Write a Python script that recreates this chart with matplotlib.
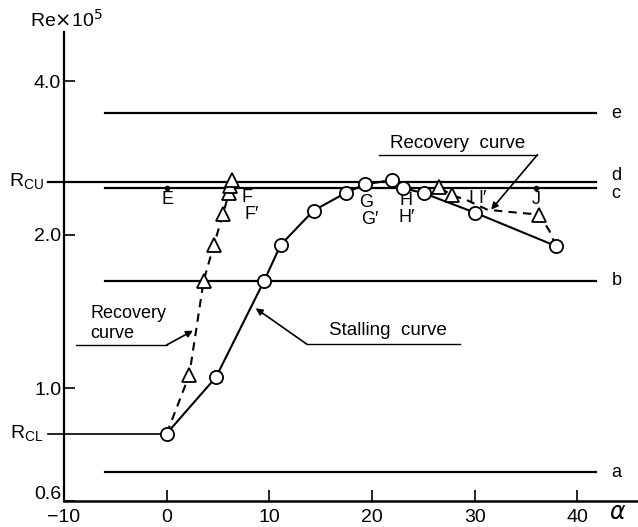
import matplotlib
matplotlib.use('Agg')
import matplotlib.pyplot as plt
import matplotlib.transforms as mtransforms
from matplotlib.ticker import NullLocator

plt.rcParams['font.family'] = ['Liberation Sans', 'DejaVu Sans']

# reference levels (Re x 10^5)
R_CU = 2.54
R_CL = 0.814
level_names = ['e', 'd', 'c', 'b', 'a']
level_values = [3.46, R_CU, 2.47, 1.625, 0.684]

# stalling curve (circles)
stall_alpha = [0.0, 4.8, 9.5, 11.1, 14.3, 17.5, 19.3, 21.9, 23.0, 25.1, 30.0, 37.9]
stall_re = [0.814, 1.05, 1.625, 1.91, 2.23, 2.42, 2.51, 2.56, 2.47, 2.41, 2.21, 1.90]

# recovery curve, low angle branch (triangles)
rec1_alpha = [0.0, 2.2, 3.6, 4.6, 5.5, 6.05, 6.2, 6.35]
rec1_re = [0.814, 1.06, 1.625, 1.91, 2.20, 2.41, 2.49, 2.56]
rec1_mark = [False, True, True, True, True, True, True, True]

# recovery curve, high angle branch
rec2_alpha = [37.9, 37.3, 36.3, 33.0, 31.2, 29.2, 27.8, 26.5]
rec2_re = [1.90, 2.03, 2.19, 2.22, 2.24, 2.34, 2.39, 2.48]
rec2_mark = [False, False, True, False, False, False, True, True]

# point labels
pt_text = ['E', 'F', "F\u2032", 'G', "G\u2032", 'H', "H\u2032", 'I', "I\u2032", 'J']
pt_alpha = [0.1, 7.8, 8.3, 19.4, 19.8, 23.3, 23.4, 29.6, 30.8, 36.0]
pt_re = [2.34, 2.37, 2.19, 2.31, 2.14, 2.33, 2.16, 2.36, 2.36, 2.35]
dot_alpha = [0.0, 36.0]
dot_re = [2.47, 2.47]

fig = plt.figure(figsize=(6.38, 5.27), dpi=100)
ax = fig.add_axes([64 / 638, 26 / 527, 573 / 638, 469 / 527])
ax.set_yscale('log')
ax.set_xlim(-10, 45.8)
ax.set_ylim(0.6, 5.0)

for s in ['top', 'right']:
    ax.spines[s].set_visible(False)
ax.spines['left'].set_linewidth(1.6)
ax.spines['bottom'].set_linewidth(1.8)

ax.set_yticks([0.6, 1.0, 2.0, 4.0])
ax.set_yticklabels(['0.6', '1.0', '2.0', '4.0'])
ax.yaxis.set_minor_locator(NullLocator())
ax.set_xticks([-10, 0, 10, 20, 30, 40])
ax.set_xticklabels(['\u221210', '0', '10', '20', '30', '40'])
ax.tick_params(axis='both', direction='in', length=8, width=1.2, labelsize=14)
ax.tick_params(axis='x', pad=6)
ax.tick_params(axis='y', pad=2)

# lift the bottom label just clear of the x axis
lab06 = ax.get_yticklabels()[0]
lab06.set_transform(lab06.get_transform() +
                    mtransforms.ScaledTranslation(0, 6 / 72, fig.dpi_scale_trans))

# horizontal levels
for name, v in zip(level_names, level_values):
    x0 = -11.6 if name == 'd' else -6.0
    ax.plot([x0, 41.8], [v, v], color='black', lw=1.6, clip_on=False)
    ax.text(43.3, v * (1.03 if name == 'd' else (0.975 if name == 'c' else 1.0)), name,
            fontsize=13, va='center', ha='left')
ax.plot([-11.6, 0], [R_CL, R_CL], color='black', lw=1.2, clip_on=False)

ax.text(-12.0, R_CU, r'R$_{\mathregular{CU}}$', fontsize=14, ha='right', va='center')
ax.text(-12.0, R_CL, r'R$_{\mathregular{CL}}$', fontsize=14, ha='right', va='center')

# stalling curve
ax.plot(stall_alpha, stall_re, color='black', lw=1.5, zorder=3)
ax.plot(stall_alpha, stall_re, 'o', ms=9.5, mfc='white', mec='black', mew=1.3, zorder=4)

# recovery curves
ax.plot(rec1_alpha, rec1_re, color='black', lw=1.5, ls=(0, (4, 3)), zorder=3)
ax.plot([a for a, m in zip(rec1_alpha, rec1_mark) if m],
        [r for r, m in zip(rec1_re, rec1_mark) if m],
        '^', ms=10, mfc='white', mec='black', mew=1.3, zorder=5)
ax.plot(rec2_alpha, rec2_re, color='black', lw=1.5, ls=(0, (4, 3)), zorder=3)
ax.plot([a for a, m in zip(rec2_alpha, rec2_mark) if m],
        [r for r, m in zip(rec2_re, rec2_mark) if m],
        '^', ms=10, mfc='white', mec='black', mew=1.3, zorder=5)

ax.plot(dot_alpha, dot_re, 'o', ms=3, color='black', zorder=5)
for t, a, r in zip(pt_text, pt_alpha, pt_re):
    ax.text(a, r, t, fontsize=13, ha='center', va='center')

# leader lines with labels
arrow = dict(arrowstyle='-|>', color='black', lw=1.2, mutation_scale=10, shrinkA=0, shrinkB=0)
ax.plot([-8.8, 0.0], [1.215, 1.215], color='black', lw=1.0, clip_on=False)
ax.annotate('', xy=(2.56, 1.296), xytext=(0.0, 1.215), arrowprops=arrow)
ax.text(-7.4, 1.402, 'Recovery', fontsize=13, va='center', ha='left')
ax.text(-7.4, 1.277, 'curve', fontsize=13, va='center', ha='left')

ax.plot([13.65, 28.6], [1.219, 1.219], color='black', lw=1.0)
ax.annotate('', xy=(8.66, 1.434), xytext=(13.65, 1.219), arrowprops=arrow)
ax.text(15.8, 1.295, 'Stalling  curve', fontsize=13.5, va='center', ha='left')

ax.plot([20.7, 36.1], [2.87, 2.87], color='black', lw=1.0)
ax.annotate('', xy=(31.6, 2.24), xytext=(36.1, 2.87), arrowprops=arrow)
ax.text(21.7, 3.02, 'Recovery  curve', fontsize=13.5, va='center', ha='left')

ax.text(43.9, -0.026, r'$\alpha$', fontsize=17, transform=ax.get_xaxis_transform(),
        ha='center', va='center')
fig.text(66 / 638, 1 - 20 / 527, r'Re$\times$10$^{5}$', fontsize=14, ha='center', va='center')

fig.savefig('out.png', dpi=100)
